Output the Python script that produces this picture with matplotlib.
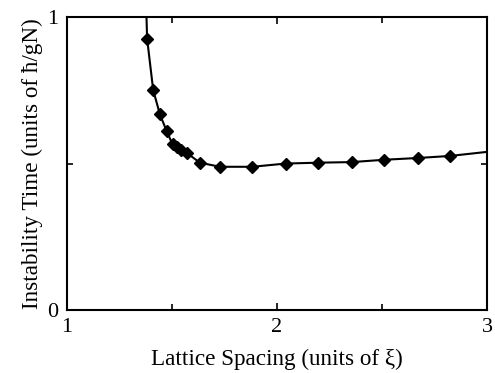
import matplotlib
matplotlib.use("Agg")
import matplotlib.pyplot as plt
from matplotlib.ticker import MultipleLocator

# ---- DATA ----
spacing = [1.36, 1.382, 1.411, 1.443, 1.475, 1.503, 1.523, 1.545, 1.570,
           1.633, 1.729, 1.883, 2.041, 2.197, 2.356, 2.511, 2.670, 2.824, 3.14]
inst_time = [1.5, 0.927, 0.751, 0.668, 0.611, 0.566, 0.557, 0.547, 0.537,
             0.503, 0.489, 0.489, 0.500, 0.503, 0.505, 0.513, 0.519, 0.526, 0.551]

plt.rcParams['font.family'] = ['Liberation Serif', 'DejaVu Serif']

fig = plt.figure(figsize=(4.95, 3.73), dpi=100)
ax = fig.add_axes([0.135, 0.169, 0.849, 0.785])

ax.plot(spacing, inst_time, color='black', lw=1.5, marker='D',
        markersize=6.5, markerfacecolor='black', markeredgecolor='black')

ax.set_xlim(1, 3)
ax.set_ylim(0, 1)
ax.set_xticks([1, 2, 3])
ax.set_yticks([0, 1])
ax.xaxis.set_minor_locator(MultipleLocator(0.5))
ax.yaxis.set_minor_locator(MultipleLocator(0.5))
ax.tick_params(which='both', direction='in', top=True, right=True,
               width=1.2, labelsize=16, pad=6)
ax.tick_params(which='major', length=5)
ax.tick_params(which='minor', length=4)
for s in ax.spines.values():
    s.set_linewidth(1.5)

ax.set_xlabel("Lattice Spacing (units of ξ)", fontsize=16.7, labelpad=8)
ax.set_ylabel("Instability Time (units of ħ/gN)", fontsize=16.7, labelpad=3)

fig.savefig("out.png", dpi=100)
